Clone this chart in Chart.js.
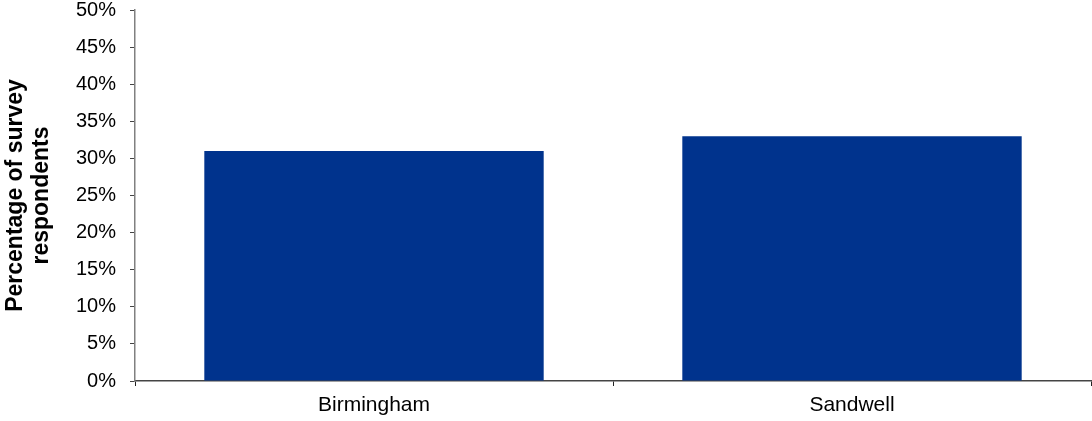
<!DOCTYPE html>
<html lang="en">
<head>
    <meta charset="UTF-8">
    <title>Survey respondents by area</title>
    <script src="https://cdn.jsdelivr.net/npm/chart.js"></script>
    <style>
        html, body {
            margin: 0;
            padding: 0;
            background: #ffffff;
        }
        #chartContainer {
            width: 1092px;
            height: 421px;
        }
    </style>
</head>
<body>
    <div id="chartContainer">
        <canvas id="surveyChart"></canvas>
    </div>

    <script>
        const areas = ['Birmingham', 'Sandwell'];
        const respondentShare = [31, 33];
        const yTitleLines = ['Percentage of survey', 'respondents'];

        const fontFamily = '"Liberation Sans", Arial, sans-serif';

        const ctx = document.getElementById('surveyChart').getContext('2d');
        const surveyChart = new Chart(ctx, {
            type: 'bar',
            data: {
                labels: areas,
                datasets: [{
                    data: respondentShare,
                    backgroundColor: '#00338d',
                    borderWidth: 0,
                    categoryPercentage: 0.71,
                    barPercentage: 1.0
                }]
            },
            options: {
                responsive: true,
                maintainAspectRatio: false,
                animation: false,
                layout: {
                    padding: { top: 0, right: 1, left: 0, bottom: 0 }
                },
                plugins: {
                    legend: { display: false },
                    tooltip: { enabled: false }
                },
                scales: {
                    x: {
                        afterFit: scale => { scale.height = 40; },
                        grid: {
                            offset: true,
                            drawOnChartArea: false,
                            tickLength: 5,
                            color: '#222222'
                        },
                        border: { color: '#444444', width: 1.5 },
                        ticks: {
                            color: '#000000',
                            font: { family: fontFamily, size: 21 },
                            padding: 7
                        }
                    },
                    y: {
                        min: 0,
                        max: 50,
                        // fixed axis width and just enough room above for the 50% label
                        afterFit: scale => {
                            scale.width = 135;
                            scale.paddingTop = 10;
                            scale.paddingBottom = 0;
                        },
                        grid: {
                            drawOnChartArea: false,
                            tickLength: 5,
                            color: '#444444'
                        },
                        border: { color: '#808080', width: 1.5 },
                        ticks: {
                            stepSize: 5,
                            color: '#000000',
                            font: { family: fontFamily, size: 20 },
                            padding: 14,
                            callback: value => value + '%'
                        },
                        title: {
                            display: true,
                            text: yTitleLines,
                            color: '#000000',
                            font: { family: fontFamily, size: 23, weight: 'bold', lineHeight: 1.15 },
                            padding: { top: 2, bottom: 0 }
                        }
                    }
                }
            }
        });
    </script>
</body>
</html>
